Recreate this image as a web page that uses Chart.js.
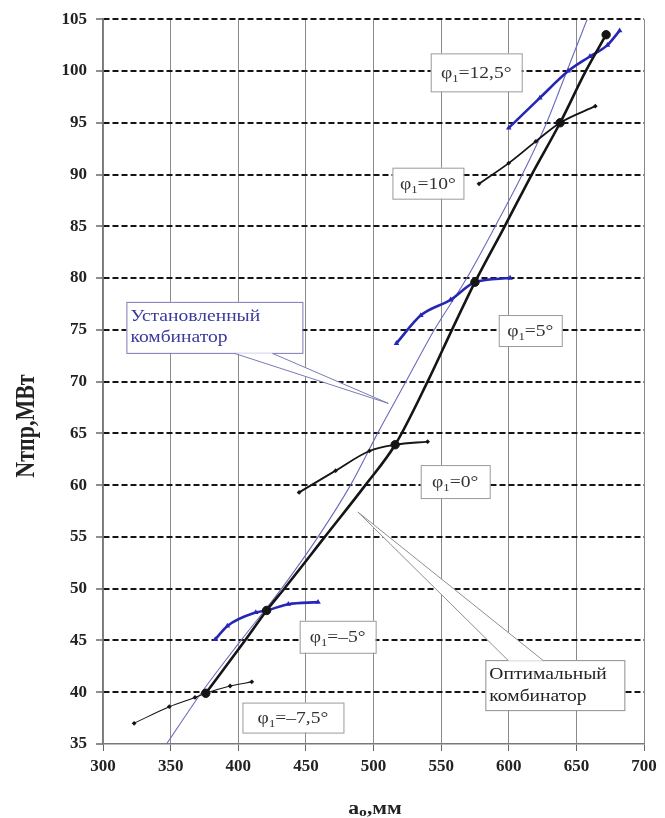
<!DOCTYPE html>
<html>
<head>
<meta charset="utf-8">
<script src="https://cdn.jsdelivr.net/npm/chart.js@4.4.1/dist/chart.umd.min.js"></script>
<style>
  html, body { margin: 0; padding: 0; background: #fff; }
  #wrap { width: 665px; height: 818px; }
</style>
</head>
<body>
<div id="wrap"><canvas id="c" width="665" height="818"></canvas></div>
<script>
// Axis ticks
const xTickValues = [300, 350, 400, 450, 500, 550, 600, 650, 700];
const yTickValues = [35, 40, 45, 50, 55, 60, 65, 70, 75, 80, 85, 90, 95, 100, 105];

// Optimal combinator curve (a0, mm -> N, MW)
const optimalA = [376, 405, 421, 434, 464, 494, 516, 540, 558, 575, 597, 617, 638, 657, 672];
const optimalN = [39.9, 45, 47.9, 50, 55, 60, 63.9, 70, 75, 79.6, 85, 90, 95, 100, 103.5];
// Optimum points for each blade angle
const optimumA = [376, 421, 516, 575, 638, 672];
const optimumN = [39.9, 47.9, 63.9, 79.6, 95, 103.5];

// Installed combinator
const installedA = [347, 373, 402, 432, 459, 483, 503, 524, 545, 569, 590, 610, 628, 643, 658];
const installedN = [35, 40, 45, 50, 55, 60, 65, 70, 75, 80, 85, 90, 95, 100, 105];

// Constant blade angle characteristics
const phiM75A = [323, 349, 368, 376, 394, 410];
const phiM75N = [37.0, 38.6, 39.5, 39.9, 40.6, 41.0];
const phiM5A = [383, 392, 413, 421, 437, 459];
const phiM5N = [45.1, 46.4, 47.7, 47.9, 48.5, 48.7];
const phi0A = [445, 472, 497, 516, 540];
const phi0N = [59.3, 61.4, 63.3, 63.9, 64.2];
const phi5A = [517, 535, 557, 575, 601];
const phi5N = [73.7, 76.4, 77.9, 79.6, 80.0];
const phi10A = [578, 600, 620, 638, 664];
const phi10N = [89.1, 91.1, 93.2, 95.0, 96.6];
const phi125A = [600, 623, 644, 660, 673, 682];
const phi125N = [94.5, 97.4, 100.0, 101.4, 102.5, 103.9];

// Blade angle captions
const phiLabels = ['12,5°', '10°', '5°', '0°', '–5°', '–7,5°'];

const pts = (xs, ys) => xs.map((x, i) => ({ x: x, y: ys[i] }));

const SERIF = '"Liberation Serif", "Times New Roman", serif';
const STRETCH = 1.15;
const BLACK = '#151515';
const BLUE = '#2727b6';

// Caption boxes: anchor (top-left) in data units, size in px
const phiBoxes = [
  { x: 542.3, y: 101.7, w: 91, h: 38 },
  { x: 514.0, y: 90.66, w: 71, h: 31 },
  { x: 592.6, y: 76.43, w: 63, h: 31 },
  { x: 534.9, y: 61.94, w: 69, h: 33 },
  { x: 445.4, y: 46.9, w: 76, h: 32 },
  { x: 403.1, y: 39.0, w: 101, h: 30 }
];
const callouts = [
  { lines: ['Установленный', 'комбинатор'], color: '#3a3a9c', stroke: '#7a7ab8',
    x: 317.3, y: 77.7, w: 176, h: 51, side: 'bottom', base: [108, 146], tip: { x: 510.9, y: 67.9 } },
  { lines: ['Оптимальный', 'комбинатор'], color: '#222', stroke: '#8e8e8e',
    x: 582.7, y: 43.1, w: 139, h: 50, side: 'top', base: [23, 58], tip: { x: 488.5, y: 57.4 } }
];

function drawParts(ctx, parts, cx, baseY, align, sx) {
  ctx.save();
  let total = 0;
  parts.forEach(p => {
    ctx.font = (p.weight || 'normal') + ' ' + p.size + 'px ' + SERIF;
    p.w = ctx.measureText(p.t).width;
    total += p.w;
  });
  ctx.translate(cx, baseY);
  ctx.scale(sx, 1);
  let x = align === 'left' ? 0 : -total / 2;
  ctx.textBaseline = 'alphabetic';
  ctx.textAlign = 'left';
  parts.forEach(p => {
    ctx.font = (p.weight || 'normal') + ' ' + p.size + 'px ' + SERIF;
    ctx.fillStyle = p.color || '#222';
    ctx.fillText(p.t, x, p.dy || 0);
    x += p.w;
  });
  ctx.restore();
}

const decorPlugin = {
  id: 'decor',
  beforeDraw(chart) {
    const ctx = chart.ctx;
    ctx.save();
    ctx.fillStyle = '#fff';
    ctx.fillRect(0, 0, chart.width, chart.height);
    ctx.restore();
  },
  afterDatasetsDraw(chart) {
    const ctx = chart.ctx;
    const xs = chart.scales.x, ys = chart.scales.y;

    // Callouts with pointers
    callouts.forEach(c => {
      const left = xs.getPixelForValue(c.x), top = ys.getPixelForValue(c.y);
      ctx.save();
      ctx.fillStyle = '#fff';
      ctx.strokeStyle = c.stroke;
      ctx.lineWidth = 1;
      ctx.fillRect(left, top, c.w, c.h);
      ctx.strokeRect(left + 0.5, top + 0.5, c.w, c.h);
      const edge = c.side === 'bottom' ? top + c.h + 0.5 : top + 0.5;
      const tx = xs.getPixelForValue(c.tip.x), ty = ys.getPixelForValue(c.tip.y);
      const b1 = left + c.base[0], b2 = left + c.base[1];
      ctx.beginPath();
      ctx.moveTo(b1, edge);
      ctx.lineTo(tx, ty);
      ctx.lineTo(b2, edge);
      ctx.closePath();
      ctx.fill();
      ctx.beginPath();
      ctx.moveTo(b1, edge);
      ctx.lineTo(tx, ty);
      ctx.lineTo(b2, edge);
      ctx.stroke();
      c.lines.forEach((line, i) => {
        drawParts(ctx, [{ t: line, size: 17, color: c.color }], left + 4, top + 19 + i * 21.5, 'left', STRETCH);
      });
      ctx.restore();
    });

    // Blade angle captions
    phiBoxes.forEach((b, i) => {
      const left = xs.getPixelForValue(b.x), top = ys.getPixelForValue(b.y);
      ctx.save();
      ctx.fillStyle = '#fff';
      ctx.strokeStyle = '#9a9a9a';
      ctx.lineWidth = 1;
      ctx.fillRect(left, top, b.w, b.h);
      ctx.strokeRect(left + 0.5, top + 0.5, b.w, b.h);
      ctx.restore();
      drawParts(ctx, [
        { t: 'φ', size: 17, color: '#333' },
        { t: '1', size: 11, dy: 4, color: '#333' },
        { t: '=' + phiLabels[i], size: 17, color: '#333' }
      ], left + b.w / 2, top + b.h / 2 + 5.5, 'center', STRETCH);
    });
  },
  afterDraw(chart) {
    const ctx = chart.ctx;
    // x-axis title
    drawParts(ctx, [
      { t: 'a', size: 18, weight: 'bold' },
      { t: 'о', size: 13, weight: 'bold', dy: 2 },
      { t: ',мм', size: 18, weight: 'bold' }
    ], 375, 814, 'center', 1.2);
    // y-axis title
    ctx.save();
    ctx.translate(25, 426);
    ctx.rotate(-Math.PI / 2);
    ctx.scale(1, 1.2);
    ctx.font = 'bold 22px ' + SERIF;
    ctx.fillStyle = '#222';
    ctx.textAlign = 'center';
    ctx.textBaseline = 'alphabetic';
    ctx.fillText('Nтпр,МВт', 0, 7.5);
    ctx.restore();
  }
};

const blackSeries = (xs, ys, width) => ({
  data: pts(xs, ys), showLine: true, borderColor: BLACK, backgroundColor: BLACK,
  borderWidth: width, pointStyle: 'rectRot', pointRadius: 2.4, pointBorderWidth: 0,
  cubicInterpolationMode: 'monotone', order: 3
});
const blueSeries = (xs, ys) => ({
  data: pts(xs, ys), showLine: true, borderColor: BLUE, backgroundColor: BLUE,
  borderWidth: 2.6, pointStyle: 'triangle', pointRadius: 3.2, pointBorderWidth: 0,
  cubicInterpolationMode: 'monotone', order: 3
});

new Chart(document.getElementById('c'), {
  type: 'scatter',
  data: {
    datasets: [
      { label: 'Оптимальный комбинатор', data: pts(optimalA, optimalN), showLine: true,
        borderColor: BLACK, borderWidth: 2.6, pointRadius: 0, cubicInterpolationMode: 'monotone', order: 1 },
      { label: 'Оптимум', data: pts(optimumA, optimumN), showLine: false,
        backgroundColor: BLACK, borderColor: BLACK, pointRadius: 4.2, order: 0 },
      { label: 'Установленный комбинатор', data: pts(installedA, installedN), showLine: true,
        borderColor: '#6a6abf', borderWidth: 1.1, pointRadius: 0, cubicInterpolationMode: 'monotone', order: 4 },
      blackSeries(phiM75A, phiM75N, 1.1),
      blueSeries(phiM5A, phiM5N),
      blackSeries(phi0A, phi0N, 1.8),
      blueSeries(phi5A, phi5N),
      blackSeries(phi10A, phi10N, 1.8),
      blueSeries(phi125A, phi125N)
    ]
  },
  options: {
    responsive: false,
    animation: false,
    devicePixelRatio: 1,
    layout: { padding: { top: 19, right: 21, left: 0, bottom: 0 } },
    plugins: { legend: { display: false }, tooltip: { enabled: false } },
    scales: {
      x: {
        type: 'linear', min: 300, max: 700,
        afterBuildTicks: s => { s.ticks = xTickValues.map(v => ({ value: v })); },
        afterFit: s => { s.height = 74; },
        grid: { color: '#8a8a8a', lineWidth: 1, tickLength: 7, tickColor: '#666', tickWidth: 1 },
        border: { color: '#7a7a7a', width: 1.5 },
        ticks: { color: '#222', padding: 5, font: { family: SERIF, size: 17, weight: 'bold' } }
      },
      y: {
        type: 'linear', min: 35, max: 105,
        afterBuildTicks: s => { s.ticks = yTickValues.map(v => ({ value: v })); },
        afterFit: s => { s.width = 103; },
        grid: {
          color: c => (c.tick && c.tick.value === 35 ? 'rgba(0,0,0,0)' : '#151515'),
          lineWidth: 2, tickLength: 7, tickColor: '#444', tickWidth: 1.2, tickBorderDash: []
        },
        border: { color: '#7a7a7a', width: 1.5, dash: [6, 3] },
        ticks: { color: '#222', padding: 9, font: { family: SERIF, size: 17, weight: 'bold' } }
      }
    }
  },
  plugins: [decorPlugin]
});
</script>
</body>
</html>
